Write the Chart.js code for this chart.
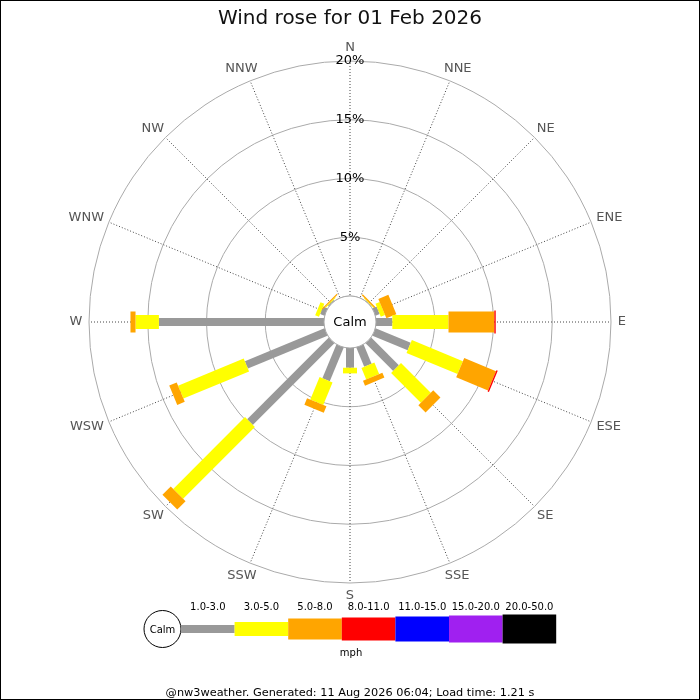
<!DOCTYPE html>
<html>
<head>
<meta charset="utf-8">
<title>Wind rose</title>
<script src="https://cdn.jsdelivr.net/npm/chart.js@4.4.1/dist/chart.umd.min.js"></script>
<style>
  html, body { margin: 0; padding: 0; background: #fff; }
  canvas { display: block; }
</style>
</head>
<body>
<canvas id="rose" width="700" height="700"></canvas>
<script>
// =========================================================
// Data — % of the day per direction, one array per speed band (mph)
// =========================================================
const directions = ['N', 'NNE', 'NE', 'ENE', 'E', 'ESE', 'SE', 'SSE', 'S', 'SSW', 'SW', 'WSW', 'W', 'WNW', 'NW', 'NNW'];
const speedBands = ['1.0-3.0', '3.0-5.0', '5.0-8.0', '8.0-11.0', '11.0-15.0', '15.0-20.0', '20.0-50.0'];

const band1to3   = [0, 0, 0.05, 0.38, 1.39, 3.24, 3.33, 1.77, 1.68, 3.11, 9.83, 7.33, 14.05, 0.40, 0.10, 0];
const band3to5   = [0, 0, 0.05, 0.39, 4.78, 4.70, 3.58, 1.06, 0.48, 2.07, 8.64, 6.05, 1.99, 0.35, 0.08, 0];
const band5to8   = [0, 0, 0.12, 0.92, 3.90, 2.93, 0.87, 0.45, 0, 0.60, 1.00, 0.69, 0.43, 0, 0.10, 0];
const band8to11  = [0, 0, 0, 0, 0.12, 0.12, 0, 0, 0, 0, 0, 0, 0, 0, 0, 0];
const band11to15 = [0, 0, 0, 0, 0, 0, 0, 0, 0, 0, 0, 0, 0, 0, 0, 0];
const band15to20 = [0, 0, 0, 0, 0, 0, 0, 0, 0, 0, 0, 0, 0, 0, 0, 0];
const band20to50 = [0, 0, 0, 0, 0, 0, 0, 0, 0, 0, 0, 0, 0, 0, 0, 0];

const ringTicks = [5, 10, 15, 20];
const maxPct = 20;

const titleText = 'Wind rose for 01 Feb 2026';
const footerText = '@nw3weather. Generated: 11 Aug 2026 06:04; Load time: 1.21 s';

// =========================================================
// Styles
// =========================================================
const FONT = "'DejaVu Sans', sans-serif";
const bandColors = ['#999999', '#ffff00', '#ffa500', '#ff0000', '#0000ff', '#a020f0', '#000000'];
const bandWidths = [8, 14, 21, 23, 25, 27, 29];
const CALM_PCT = 2.213; // scale room kept for the calm circle

const bandValues = [band1to3, band3to5, band5to8, band8to11, band11to15, band15to20, band20to50];

// Stacked radial bars + calm circle + legend, drawn off the r scale
const windRose = {
  id: 'windRose',
  afterDatasetsDraw(chart) {
    const r = chart.scales.r;
    const ctx = chart.ctx;
    ctx.save();
    ctx.lineCap = 'butt';
    chart.data.labels.forEach((_, i) => {
      let base = 0;
      chart.data.datasets.forEach((ds, k) => {
        const v = ds.data[i];
        if (!v) return;
        const a = r.getPointPositionForValue(i, base);
        const b = r.getPointPositionForValue(i, base + v);
        ctx.strokeStyle = bandColors[k];
        ctx.lineWidth = bandWidths[k];
        ctx.beginPath();
        ctx.moveTo(a.x, a.y);
        ctx.lineTo(b.x, b.y);
        ctx.stroke();
        base += v;
      });
    });

    // Calm circle
    const rc = r.getDistanceFromCenterForValue(0);
    ctx.beginPath();
    ctx.arc(r.xCenter, r.yCenter, rc, 0, Math.PI * 2);
    ctx.fillStyle = '#fff';
    ctx.fill();
    ctx.strokeStyle = '#aaa';
    ctx.lineWidth = 1;
    ctx.stroke();
    ctx.fillStyle = '#000';
    ctx.font = '13px ' + FONT;
    ctx.textAlign = 'center';
    ctx.textBaseline = 'middle';
    ctx.fillText('Calm', r.xCenter, r.yCenter + 1);
    ctx.restore();
  },
  afterDraw(chart) {
    const r = chart.scales.r;
    const ctx = chart.ctx;
    ctx.save();

    // --- compass labels, pushed out by half their box ---
    ctx.font = '13px ' + FONT;
    ctx.fillStyle = '#555';
    ctx.textAlign = 'center';
    ctx.textBaseline = 'middle';
    chart.data.labels.forEach((lbl, i) => {
      const p = r.getPointPosition(i, r.drawingArea + 6.7);
      const ang = r.getIndexAngle(i) - Math.PI / 2;
      const w = ctx.measureText(lbl).width;
      ctx.fillText(lbl, p.x + Math.cos(ang) * w / 2, p.y + Math.sin(ang) * 6.3);
    });

    // --- legend ---
    const cy = 629, x0 = 181, seg = 53.6;
    ctx.beginPath();
    ctx.arc(162.5, cy, 18.5, 0, Math.PI * 2);
    ctx.fillStyle = '#fff';
    ctx.fill();
    ctx.strokeStyle = '#000';
    ctx.lineWidth = 1;
    ctx.stroke();
    ctx.font = '10px ' + FONT;
    ctx.fillStyle = '#000';
    ctx.fillText('Calm', 162.5, cy + 1);
    speedBands.forEach((label, k) => {
      const x = x0 + k * seg;
      const w = bandWidths[k];
      ctx.fillStyle = bandColors[k];
      ctx.fillRect(x, cy - w / 2, seg, w);
      ctx.fillStyle = '#000';
      ctx.fillText(label, x + seg / 2, 607);
    });
    ctx.fillText('mph', 351, 653);

    // frame
    ctx.strokeStyle = '#000';
    ctx.lineWidth = 1;
    ctx.strokeRect(0.5, 0.5, 699, 699);
    ctx.restore();
  }
};

new Chart(document.getElementById('rose'), {
  type: 'radar',
  data: {
    labels: directions,
    datasets: speedBands.map((b, k) => ({
      label: b + ' mph',
      data: bandValues[k],
      showLine: false,
      fill: false,
      borderWidth: 0,
      backgroundColor: 'rgba(0,0,0,0)',
      borderColor: 'rgba(0,0,0,0)',
      pointRadius: 0,
      pointHoverRadius: 0,
    })),
  },
  options: {
    responsive: false,
    devicePixelRatio: 1,
    animation: false,
    events: [],
    layout: { padding: 0 },
    plugins: {
      legend: { display: false },
      tooltip: { enabled: false },
      title: {
        display: true,
        text: titleText,
        color: '#111',
        font: { family: FONT, size: 20, weight: 'normal' },
        padding: { top: 7, bottom: 0 },
      },
      subtitle: {
        display: true,
        position: 'bottom',
        text: footerText,
        color: '#000',
        font: { family: FONT, size: 11.3, weight: 'normal' },
        padding: { top: 2, bottom: 0 },
      },
    },
    scales: {
      r: {
        min: -CALM_PCT,
        max: maxPct,
        // pin the rose: centre and outer ring radius
        afterSetDimensions(scale) {
          scale.xCenter = 350;
          scale.yCenter = 322;
          scale.drawingArea = 261;
        },
        afterBuildTicks(scale) {
          scale.ticks = [{ value: 0 }].concat(ringTicks.map(v => ({ value: v })));
        },
        grid: { circular: true, color: '#aaaaaa', lineWidth: 1 },
        angleLines: { color: '#444', lineWidth: 1, borderDash: [1, 2] },
        ticks: {
          callback: v => (v > 0 ? v + '%' : ''),
          color: '#000',
          font: { family: FONT, size: 13 },
          showLabelBackdrop: false,
          backdropPadding: 0,
        },
        pointLabels: { display: false },
      },
    },
  },
  plugins: [windRose],
});
</script>
</body>
</html>
